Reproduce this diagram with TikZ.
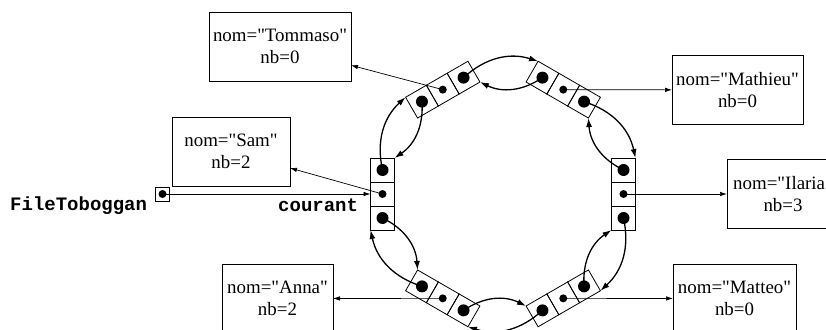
\documentclass[tikz,border=0pt]{standalone}
\usepackage{fontspec}
\setmainfont{Liberation Serif}[Ligatures=TeXOff]
\setmonofont{Liberation Mono}
\usetikzlibrary{arrows.meta}
\newcommand\ringnode[3]{%
  \node[cell, rotate=#3] (#1-m) at (#2) {};
  \node[cell, rotate=#3, anchor=west] (#1-n) at (#1-m.east) {};
  \node[cell, rotate=#3, anchor=east] (#1-p) at (#1-m.west) {};
  \node[bigdot] at (#1-n.center) {};
  \node[smalldot] at (#1-m.center) {};
  \node[bigdot] at (#1-p.center) {};
}
\begin{document}
\begin{tikzpicture}[x=1pt,y=-1pt,
  cell/.style={draw, line width=0.8pt, minimum size=24pt, inner sep=0pt, outer sep=0pt},
  bigdot/.style={circle, fill, inner sep=0pt, minimum size=12pt},
  smalldot/.style={circle, fill, inner sep=0pt, minimum size=8pt},
  databox/.style={draw, line width=0.8pt, minimum height=69pt, inner sep=0pt, outer sep=0pt, align=center, font=\fontsize{18.9}{21.7}\selectfont},
  link/.style={line width=1.3pt, -{Latex[length=9pt,width=6pt]}, bend left=30},
  dptr/.style={line width=0.7pt, -{Latex[length=7pt,width=4.5pt]}},
  lbl/.style={font=\fontsize{19}{19}\selectfont\ttfamily\bfseries, inner sep=0pt}
]
\useasboundingbox (0,0) rectangle (826,329);
\clip (0,0) rectangle (826,329);

% ring of list cells
\ringnode{sam}{382.5,194}{90}
\ringnode{tom}{442.75,89.64}{30}
\ringnode{mat}{563.25,89.64}{-30}
\ringnode{ila}{623.5,194}{-90}
\ringnode{mto}{563.25,298.36}{-150}
\ringnode{ann}{442.75,298.36}{150}

% data boxes
\node[databox, minimum width=142pt] (tomb) at (280,46.5) {nom="Tommaso"\\nb=0};
\node[databox, minimum width=118pt] (samb) at (231,151.5) {nom="Sam"\\nb=2};
\node[databox, minimum width=131pt] (matb) at (737.5,90) {nom="Mathieu"\\nb=0};
\node[databox, minimum width=112pt] (ilab) at (783,194) {nom="Ilaria"\\nb=3};
\node[databox, minimum width=123pt] (mtob) at (734.5,298.5) {nom="Matteo"\\nb=0};
\node[databox, minimum width=111pt] (annb) at (277.5,298.5) {nom="Anna"\\nb=2};

% data pointers
\draw[dptr] (tom-m.center) -- (tomb);
\draw[dptr] (sam-m.center) -- (samb);
\draw[dptr] (mat-m.center) -- (matb);
\draw[dptr] (ila-m.center) -- (ilab);
\draw[dptr] (mto-m.center) -- (mtob);
\draw[dptr] (ann-m.center) -- (annb);

% next / prev links
\draw[link] (sam-n.center) to (tom-p.north west);
\draw[link] (tom-p.center) to (sam-n.south east);
\draw[link] (tom-n.center) to (mat-p.north west);
\draw[link] (mat-p.center) to (tom-n.south east);
\draw[link] (mat-n.center) to (ila-p.north west);
\draw[link] (ila-p.center) to (mat-n.south east);
\draw[link] (ila-n.center) to (mto-p.north west);
\draw[link] (mto-p.center) to (ila-n.south east);
\draw[link] (mto-n.center) to (ann-p.north west);
\draw[link] (ann-p.center) to (mto-n.south east);
\draw[link] (ann-n.center) to (sam-p.north west);
\draw[link] (sam-p.center) to (ann-n.south east);

% head pointer
\node[draw, line width=0.8pt, minimum size=14pt, inner sep=0pt] (ft) at (162.5,194) {};
\node[smalldot] at (ft.center) {};
\draw[dptr] (ft.center) -- (sam-m);
\node[lbl, anchor=base west] (ftl) at (10,210) {FileToboggan};
\node[lbl, anchor=base west] (cur) at (278,211) {courant};
\end{tikzpicture}
\end{document}
